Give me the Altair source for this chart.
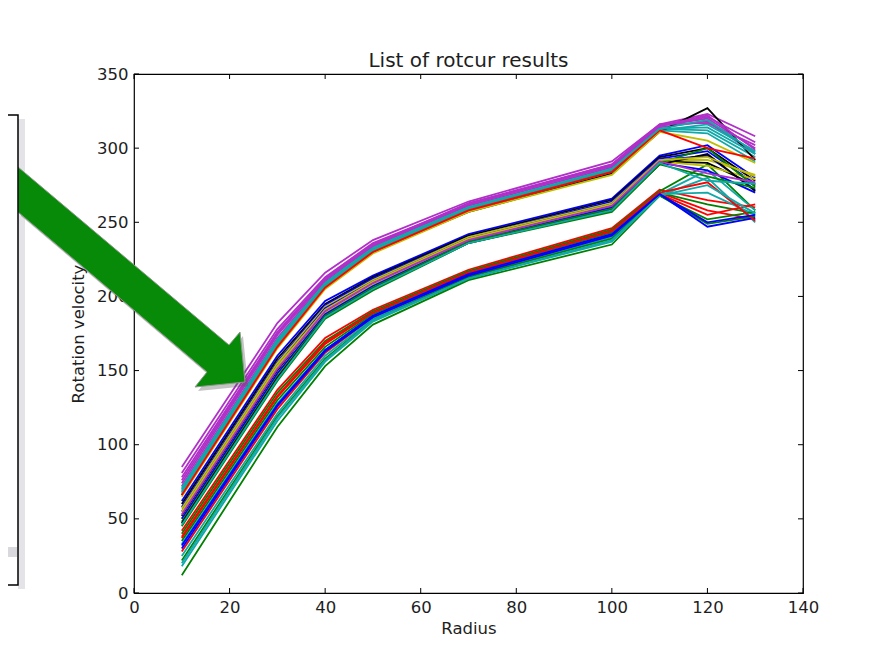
import altair as alt
import pandas as pd

# ---------------- data ----------------
RADIUS = [10, 30, 40, 50, 70, 100, 110, 120, 130]

UPPER = [
    [85, 182, 216, 238, 264, 291, 316, 323, 308],
    [81, 178, 213, 236, 262, 289, 315, 320, 300],
    [72, 172, 210, 234, 261, 287, 314, 318, 296],
    [70, 170, 209, 233, 260, 286, 313, 312, 294],
    [68, 168, 208, 232, 259, 285, 312, 316, 298],
    [66, 166, 206, 230, 257, 283, 311, 327, 292],
    [67, 167, 207, 231, 258, 284, 312, 310, 291],
    [74, 174, 211, 235, 262, 288, 315, 322, 299],
    [65, 165, 205, 229, 257, 282, 311, 305, 290],
    [69, 169, 207, 231, 259, 285, 313, 314, 296],
    [78, 176, 212, 235, 263, 289, 316, 317, 302],
    [66, 166, 206, 230, 258, 284, 312, 300, 293],
    [71, 171, 209, 233, 260, 286, 313, 319, 297],
    [76, 175, 212, 234, 262, 288, 315, 321, 304],
]
UPPER_COLORS = ["m", "m", "m", "c", "c", "k", "c", "m", "y", "c", "m", "r", "c", "m"]

MIDDLE = [
    [62, 160, 197, 214, 242, 266, 295, 302, 280],
    [60, 158, 195, 213, 241, 265, 294, 300, 278],
    [58, 156, 194, 212, 240, 264, 293, 298, 276],
    [57, 155, 193, 211, 240, 263, 292, 292, 282],
    [55, 153, 192, 210, 239, 262, 292, 295, 272],
    [52, 150, 190, 209, 238, 261, 291, 290, 275],
    [50, 148, 189, 208, 238, 260, 291, 288, 279],
    [50, 148, 188, 207, 237, 260, 290, 285, 270],
    [48, 146, 187, 206, 237, 259, 290, 300, 274],
    [47, 145, 186, 205, 236, 258, 289, 296, 271],
    [55, 153, 191, 210, 239, 262, 292, 294, 281],
    [45, 143, 185, 204, 236, 257, 289, 281, 273],
    [53, 151, 190, 209, 238, 261, 291, 283, 277],
    [46, 144, 186, 205, 236, 258, 290, 278, 276],
]
MIDDLE_COLORS = ["b", "k", "b", "y", "b", "k", "y", "b", "g", "k", "y", "g", "m", "c"]

LOWER = [
    [42, 137, 172, 191, 218, 246, 272, 265, 260],
    [40, 135, 170, 190, 217, 245, 271, 289, 258],
    [37, 132, 168, 189, 216, 244, 270, 258, 252],
    [35, 130, 166, 188, 215, 243, 270, 262, 256],
    [33, 128, 164, 187, 215, 242, 269, 285, 258],
    [28, 124, 162, 186, 214, 241, 269, 255, 262],
    [25, 121, 160, 185, 213, 240, 269, 270, 255],
    [22, 119, 158, 184, 213, 239, 268, 252, 257],
    [18, 116, 156, 183, 212, 238, 268, 280, 250],
    [12, 112, 153, 181, 211, 235, 268, 249, 254],
    [30, 126, 163, 186, 214, 241, 269, 247, 253],
    [38, 133, 169, 189, 216, 244, 270, 277, 251],
    [20, 118, 157, 184, 212, 237, 268, 275, 256],
    [32, 127, 164, 187, 215, 242, 269, 250, 255],
]
LOWER_COLORS = ["r", "g", "r", "g", "c", "r", "c", "g", "c", "g", "b", "r", "c", "b"]

X_TICKS = [0, 20, 40, 60, 80, 100, 120, 140]
Y_TICKS = [0, 50, 100, 150, 200, 250, 300, 350]

TITLE = "List of rotcur results"

PALETTE = {"b": "#0000ff", "g": "#008000", "r": "#ff0000", "c": "#10a8a8",
           "m": "#b030c8", "y": "#bfbf00", "k": "#000000"}

# ---------------- build table ----------------
rows = []
ids = []
cols = []
n = 0
for group, gcols in ((LOWER, LOWER_COLORS), (MIDDLE, MIDDLE_COLORS), (UPPER, UPPER_COLORS)):
    for vals, c in zip(group, gcols):
        lid = f"L{n:03d}"
        ids.append(lid)
        cols.append(PALETTE[c])
        for r, v in zip(RADIUS, vals):
            rows.append({"id": lid, "radius": r, "v": v})
        n += 1
df = pd.DataFrame(rows)

W, H = 669, 519
FONT = "DejaVu Sans"
TXT = "#1e1e1e"

xscale = alt.Scale(domain=[0, 140], nice=False, zero=False)
yscale = alt.Scale(domain=[0, 350], nice=False, zero=False)

lines = alt.Chart(df).mark_line(strokeWidth=1.8, clip=True).encode(
    x=alt.X("radius:Q", scale=xscale,
            axis=alt.Axis(title="Radius", values=X_TICKS, tickSize=0, domain=False,
                          grid=False, labelFlush=False, labelOverlap=False,
                          labelPadding=6, titlePadding=5)),
    y=alt.Y("v:Q", scale=yscale,
            axis=alt.Axis(title="Rotation velocity", values=Y_TICKS, tickSize=0,
                          domain=False, grid=False, labelFlush=False,
                          labelOverlap=False, labelPadding=6, titlePadding=10)),
    detail="id:N",
    color=alt.Color("id:N", scale=alt.Scale(domain=ids, range=cols), legend=None),
)

xt = pd.DataFrame({"t": X_TICKS})
yt = pd.DataFrame({"t": Y_TICKS})
TL = 5
xtick_b = alt.Chart(xt).mark_rule(color="black", strokeWidth=1).encode(
    x=alt.X("t:Q", scale=xscale), y=alt.value(H), y2=alt.value(H - TL))
xtick_t = alt.Chart(xt).mark_rule(color="black", strokeWidth=1).encode(
    x=alt.X("t:Q", scale=xscale), y=alt.value(0), y2=alt.value(TL))
ytick_l = alt.Chart(yt).mark_rule(color="black", strokeWidth=1).encode(
    y=alt.Y("t:Q", scale=yscale), x=alt.value(0), x2=alt.value(TL))
ytick_r = alt.Chart(yt).mark_rule(color="black", strokeWidth=1).encode(
    y=alt.Y("t:Q", scale=yscale), x=alt.value(W), x2=alt.value(W - TL))

one = pd.DataFrame({"label": [TITLE]})

title = alt.Chart(one).mark_text(
    font=FONT, fontSize=20, color=TXT, baseline="alphabetic", align="center"
).encode(text="label:N", x=alt.value(W / 2), y=alt.value(-7))

# ---------------- decorative overlay (slide annotation) ----------------
ARROW = "M -1.12 -1.08 L 0.99 0.70 L 1.10 0.57 L 1.15 1.07 L 0.65 1.12 L 0.77 0.97 L -1.12 -0.63 Z"
box_shadow = alt.Chart(one).mark_rect(fill="#e4e4e8").encode(
    x=alt.value(-116), x2=alt.value(-109), y=alt.value(45), y2=alt.value(515))
arrow_shadow = alt.Chart(one).mark_point(
    shape=ARROW, size=40000, filled=True, fill="#555555", opacity=0.35, strokeWidth=0
).encode(x=alt.value(-1), y=alt.value(205))
arrow = alt.Chart(one).mark_point(
    shape=ARROW, size=40000, filled=True, fill="#078a07", opacity=1,
    stroke="#8a9a8a", strokeWidth=1
).encode(x=alt.value(-4), y=alt.value(201))
box = alt.Chart(one).mark_rect(fill="white", stroke="black", strokeWidth=1.5).encode(
    x=alt.value(-150), x2=alt.value(-116), y=alt.value(41), y2=alt.value(511))
box_band = alt.Chart(one).mark_rect(fill="#d9d9dd").encode(
    x=alt.value(-150), x2=alt.value(-117), y=alt.value(473), y2=alt.value(483))

chart = alt.layer(
    lines, xtick_b, xtick_t, ytick_l, ytick_r, title,
    box_shadow, arrow_shadow, arrow, box, box_band
).properties(
    width=W, height=H,
    autosize=alt.AutoSizeParams(type="none"),
    padding={"left": 126, "top": 66, "right": 70, "bottom": 50},
).configure_view(
    stroke="black", strokeWidth=1.2
).configure_axis(
    labelFont=FONT, titleFont=FONT, labelFontSize=16.5, titleFontSize=16.5,
    labelColor=TXT, titleColor=TXT, titleFontWeight="normal"
)

chart.save("out.html", embed_options={"renderer": "svg", "actions": False})
